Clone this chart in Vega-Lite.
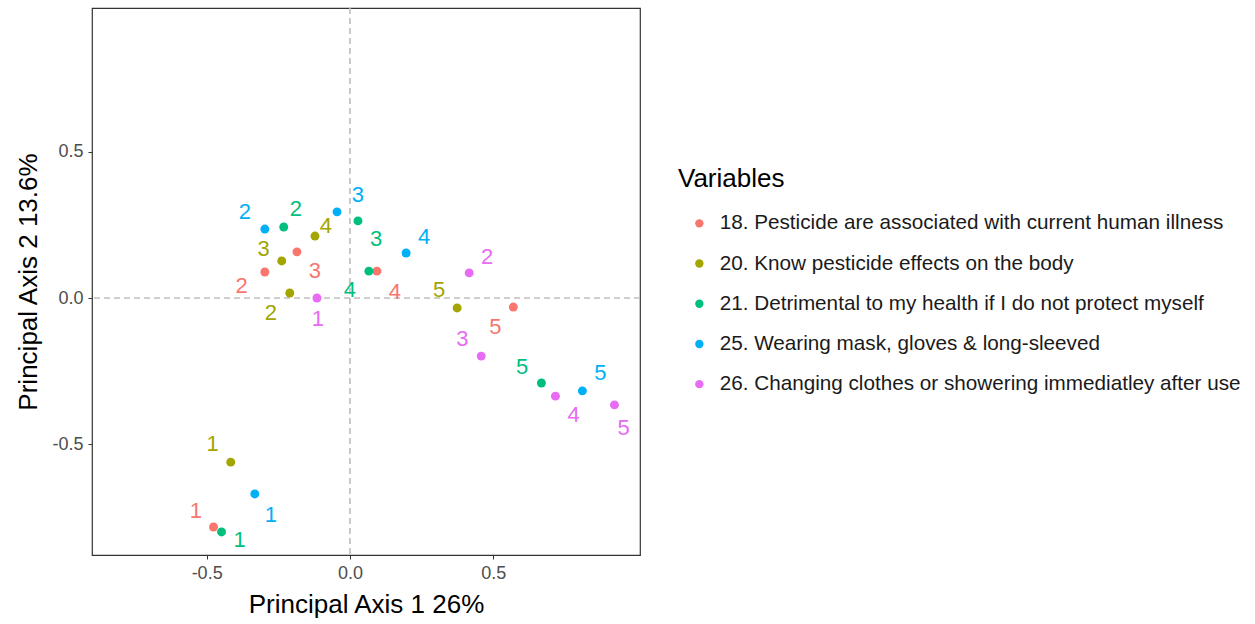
{
  "$schema": "https://vega.github.io/schema/vega-lite/v6.json",
  "width": 548,
  "height": 547,
  "autosize": "none",
  "padding": {"left": 92, "top": 8, "right": 615, "bottom": 69},
  "config": {
    "font": "Liberation Sans",
    "view": {"stroke": "#333333", "strokeWidth": 1.2},
    "axis": {"grid": false, "domain": false, "tickColor": "#333333", "tickSize": 4, "labelPadding": 5, "labelColor": "#4D4D4D", "labelFontSize": 18, "labelFont": "Liberation Sans", "titleFont": "Liberation Sans", "titleFontSize": 26, "titleFontWeight": "normal", "titleColor": "#000000",
      "labelExpr": "datum.value < 0 ? '-' + format(-datum.value, '.1f') : format(datum.value, '.1f')"}
  },
  "data": {
    "values": [
      {"variable": "18. Pesticide are associated with current human illness", "level": "1", "x": -0.476, "y": -0.784, "lx": -0.538, "ly": -0.729},
      {"variable": "18. Pesticide are associated with current human illness", "level": "2", "x": -0.297, "y": 0.089, "lx": -0.378, "ly": 0.041},
      {"variable": "18. Pesticide are associated with current human illness", "level": "3", "x": -0.185, "y": 0.158, "lx": -0.122, "ly": 0.092},
      {"variable": "18. Pesticide are associated with current human illness", "level": "4", "x": 0.094, "y": 0.092, "lx": 0.157, "ly": 0.021},
      {"variable": "18. Pesticide are associated with current human illness", "level": "5", "x": 0.570, "y": -0.031, "lx": 0.507, "ly": -0.099},
      {"variable": "20. Know pesticide effects on the body", "level": "1", "x": -0.416, "y": -0.562, "lx": -0.479, "ly": -0.5},
      {"variable": "20. Know pesticide effects on the body", "level": "2", "x": -0.210, "y": 0.017, "lx": -0.276, "ly": -0.051},
      {"variable": "20. Know pesticide effects on the body", "level": "3", "x": -0.238, "y": 0.127, "lx": -0.301, "ly": 0.168},
      {"variable": "20. Know pesticide effects on the body", "level": "4", "x": -0.122, "y": 0.212, "lx": -0.084, "ly": 0.247},
      {"variable": "20. Know pesticide effects on the body", "level": "5", "x": 0.374, "y": -0.034, "lx": 0.311, "ly": 0.027},
      {"variable": "21. Detrimental to my health if I do not protect myself", "level": "1", "x": -0.448, "y": -0.801, "lx": -0.385, "ly": -0.829},
      {"variable": "21. Detrimental to my health if I do not protect myself", "level": "2", "x": -0.231, "y": 0.243, "lx": -0.189, "ly": 0.305},
      {"variable": "21. Detrimental to my health if I do not protect myself", "level": "3", "x": 0.028, "y": 0.264, "lx": 0.091, "ly": 0.202},
      {"variable": "21. Detrimental to my health if I do not protect myself", "level": "4", "x": 0.066, "y": 0.092, "lx": 0.0, "ly": 0.027},
      {"variable": "21. Detrimental to my health if I do not protect myself", "level": "5", "x": 0.668, "y": -0.291, "lx": 0.601, "ly": -0.236},
      {"variable": "25. Wearing mask, gloves & long-sleeved", "level": "1", "x": -0.332, "y": -0.671, "lx": -0.276, "ly": -0.743},
      {"variable": "25. Wearing mask, gloves & long-sleeved", "level": "2", "x": -0.297, "y": 0.236, "lx": -0.367, "ly": 0.295},
      {"variable": "25. Wearing mask, gloves & long-sleeved", "level": "3", "x": -0.045, "y": 0.295, "lx": 0.028, "ly": 0.353},
      {"variable": "25. Wearing mask, gloves & long-sleeved", "level": "4", "x": 0.196, "y": 0.154, "lx": 0.259, "ly": 0.209},
      {"variable": "25. Wearing mask, gloves & long-sleeved", "level": "5", "x": 0.811, "y": -0.318, "lx": 0.874, "ly": -0.257},
      {"variable": "26. Changing clothes or showering immediatley after use", "level": "1", "x": -0.115, "y": 0.0, "lx": -0.112, "ly": -0.072},
      {"variable": "26. Changing clothes or showering immediatley after use", "level": "2", "x": 0.416, "y": 0.086, "lx": 0.479, "ly": 0.140},
      {"variable": "26. Changing clothes or showering immediatley after use", "level": "3", "x": 0.458, "y": -0.199, "lx": 0.392, "ly": -0.140},
      {"variable": "26. Changing clothes or showering immediatley after use", "level": "4", "x": 0.717, "y": -0.336, "lx": 0.780, "ly": -0.401},
      {"variable": "26. Changing clothes or showering immediatley after use", "level": "5", "x": 0.923, "y": -0.366, "lx": 0.955, "ly": -0.445}
    ]
  },
  "layer": [
    {
      "data": {"values": [{"v": 0}]},
      "mark": {"type": "rule", "color": "#BEBEBE", "strokeWidth": 1.6, "strokeDash": [6, 4]},
      "encoding": {"x": {"field": "v", "type": "quantitative", "scale": {"domain": [-0.9, 1.012], "nice": false, "zero": false}}}
    },
    {
      "data": {"values": [{"v": 0}]},
      "mark": {"type": "rule", "color": "#BEBEBE", "strokeWidth": 1.6, "strokeDash": [6, 4]},
      "encoding": {"y": {"field": "v", "type": "quantitative", "scale": {"domain": [-0.88, 0.993], "nice": false, "zero": false}}}
    },
    {
      "mark": {"type": "circle", "size": 80, "opacity": 1},
      "encoding": {
        "x": {"field": "x", "type": "quantitative", "scale": {"domain": [-0.9, 1.012], "nice": false, "zero": false}, "axis": {"values": [-0.5, 0, 0.5], "title": "Principal Axis 1 26%", "titlePadding": 9}},
        "y": {"field": "y", "type": "quantitative", "scale": {"domain": [-0.88, 0.993], "nice": false, "zero": false}, "axis": {"values": [-0.5, 0, 0.5], "title": "Principal Axis 2 13.6%", "titlePadding": 10}},
        "color": {
          "field": "variable", "type": "nominal",
          "scale": {"range": ["#F8766D", "#A3A500", "#00BF7D", "#00B0F6", "#E76BF3"]},
          "legend": {"title": "Variables", "orient": "none", "legendX": 586, "legendY": 158, "titleFontSize": 26, "titleFontWeight": "normal", "titleColor": "#000000", "titlePadding": 21, "labelFontSize": 20.7, "labelLimit": 0, "labelColor": "#1A1A1A", "symbolType": "circle", "symbolSize": 70, "rowPadding": 18.2, "labelOffset": 10, "symbolOffset": 11}
        }
      }
    },
    {
      "mark": {"type": "text", "fontSize": 22, "font": "Liberation Sans"},
      "encoding": {
        "x": {"field": "lx", "type": "quantitative"},
        "y": {"field": "ly", "type": "quantitative"},
        "text": {"field": "level"},
        "color": {"field": "variable", "type": "nominal", "legend": null}
      }
    }
  ]
}
